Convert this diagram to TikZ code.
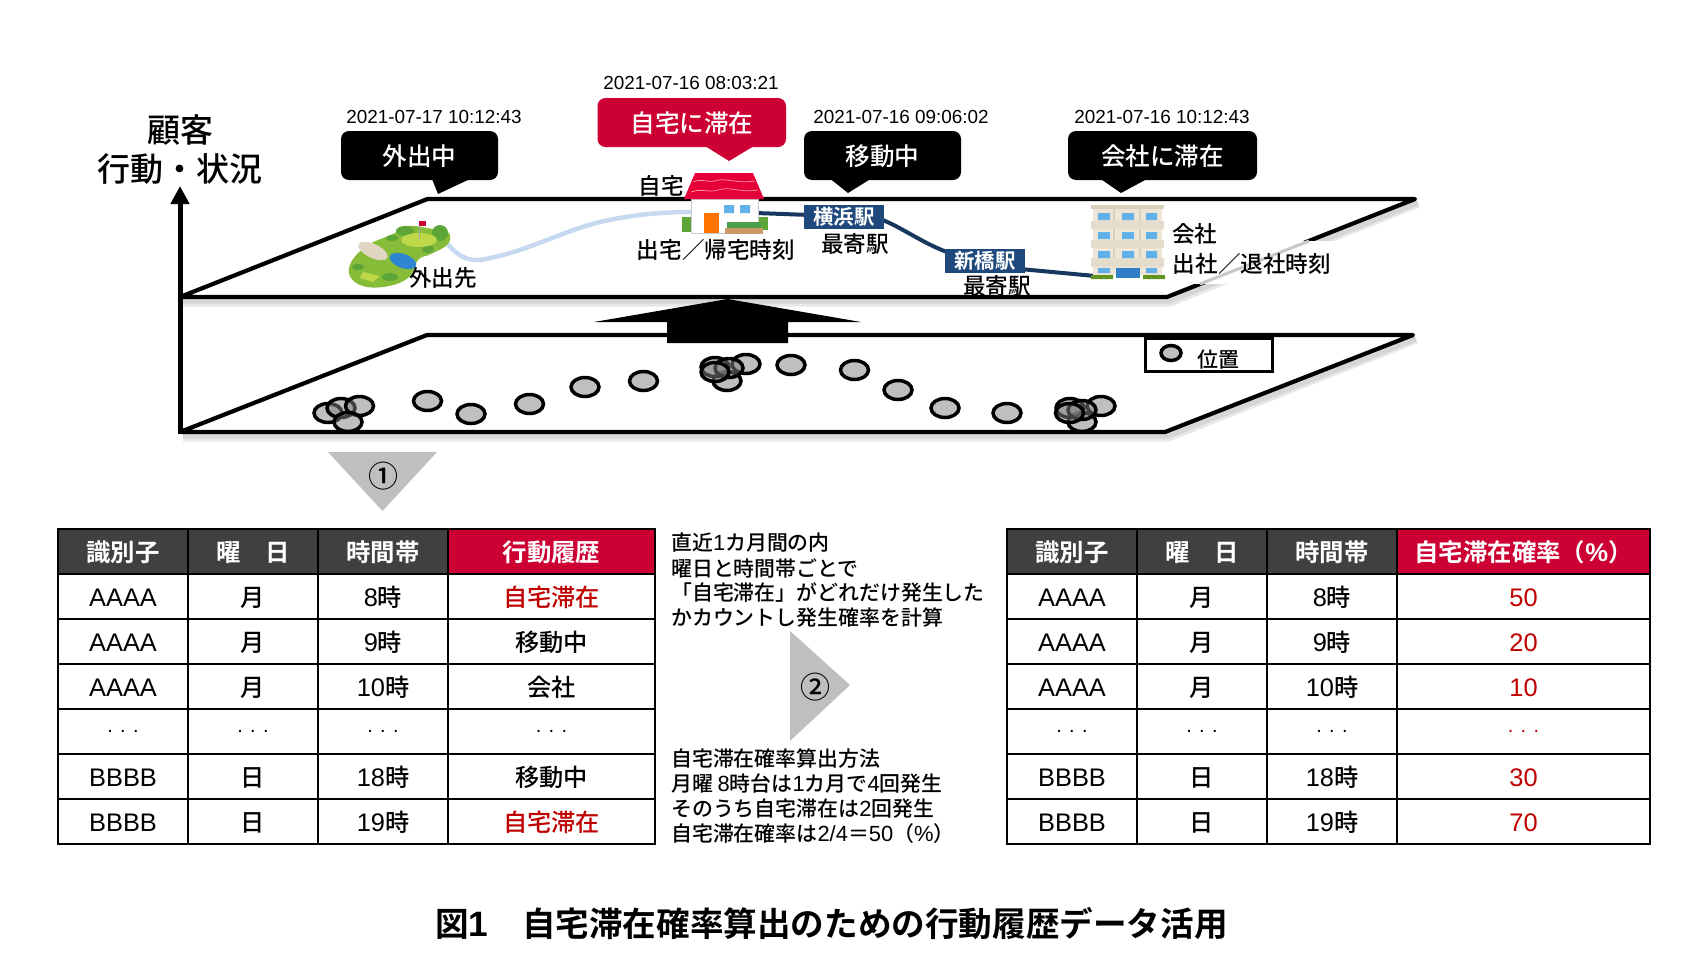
\documentclass[tikz,border=0pt]{standalone}
\usepackage{fontspec}
\usepackage{xcolor}
\setmainfont[BoldFont={Noto Sans CJK JP Bold}]{Noto Sans CJK JP Medium}
\newfontfamily\latn[Scale=1.05]{Liberation Sans}
\newfontfamily\stampfont{Liberation Sans}
\newcommand{\lat}[1]{{\latn #1}}
\usetikzlibrary{arrows.meta, shapes.geometric, positioning}
\definecolor{brandred}{HTML}{CC0033}
\definecolor{cellred}{HTML}{C00000}
\definecolor{headgray}{HTML}{404040}
\definecolor{spotgray}{HTML}{BFBFBF}
\definecolor{stationblue}{HTML}{1F497D}
\definecolor{routeblue}{HTML}{17375E}
\definecolor{lightroute}{HTML}{C6D9F1}
\definecolor{beige}{HTML}{EDE6D6}
\definecolor{beigedark}{HTML}{D8D0BC}
\definecolor{winblue}{HTML}{62B0E8}
\definecolor{doorblue}{HTML}{2F7FC8}
\definecolor{pondblue}{HTML}{2E86D0}
\definecolor{sand}{HTML}{E0D5C0}
\definecolor{turf}{HTML}{86BC38}
\definecolor{bush}{HTML}{5CA536}
\definecolor{fairway}{HTML}{BFD84A}
\definecolor{roofred}{HTML}{E6003A}

\begin{document}
\begin{tikzpicture}[
x=1pt, y=-1pt,
planeline/.style={draw=black, line width=4.2pt, line join=round},
planeshadow/.style={draw=black!9, line width=9pt, line join=round},
planeshadowin/.style={draw=black!16, line width=5pt, line join=round},
spot/.style={ellipse, draw=black, fill=gray, fill opacity=0.5, line width=3.5pt, minimum width=28pt, minimum height=19pt, inner sep=0pt},
tag/.style={inner sep=0pt, text=black, font=\fontsize{22.6}{26}\selectfont},
stamp/.style={inner sep=0pt, font=\stampfont\fontsize{18.9}{22}\selectfont},
callout/.style={inner sep=0pt, text=white, font=\fontsize{24.6}{28}\selectfont},
balloon/.style={rounded corners=8pt, fill=black},
station/.style={rectangle, fill=stationblue, text=white, inner sep=0pt, font=\bfseries\fontsize{20.4}{24}\selectfont},
cell/.style={rectangle, draw=black, fill=white, line width=1.6pt, inner sep=0pt, text height=23pt, text depth=3pt, font=\fontsize{24.2}{28}\selectfont},
head/.style={cell, fill=headgray, text=white, font=\bfseries\fontsize{24.4}{28}\selectfont},
redhead/.style={cell, fill=brandred, text=white, font=\bfseries\fontsize{24.4}{28}\selectfont},
redcell/.style={cell, text=cellred},
dotcell/.style={text height=2pt, text depth=0pt, font=\fontsize{19}{22}\selectfont},
note/.style={inner sep=0pt, anchor=west, font=\fontsize{20.9}{24}\selectfont},
wedge/.style={fill=spotgray},
colA/.style={minimum width=130pt, minimum height=45pt},
colB/.style={minimum width=130pt, minimum height=45pt},
colC/.style={minimum width=130pt, minimum height=45pt},
colD/.style={minimum width=207pt, minimum height=45pt},
colE/.style={minimum width=253pt, minimum height=45pt}
]
	\useasboundingbox (0,0) rectangle (1700,964);

	% lower plane and upper plane
	\draw[planeshadow] (183,437) -- (1168,437) -- (1416,339);
	\draw[planeshadowin] (183,436) -- (1168,436) -- (1416,339);
	\draw[planeshadow] (183,302) -- (1170,302) -- (1418,203);
	\draw[planeshadowin] (183,301) -- (1170,301) -- (1418,203);
	\node[tag] (near2) at (997,286) {最寄駅};
	\draw[planeline] (427,335) -- (1413,335) -- (1165,432) -- (180,432) -- cycle;
	\draw[planeline] (427.5,199) -- (1415,199) -- (1167,297) -- (180,297) -- cycle;

	% axis
	\coordinate (axis0) at (180,434);
	\coordinate (axis1) at (180,186);
	\draw[-{Triangle[length=18pt,width=18pt]}, line width=5pt] (axis0) -- (axis1);
	\node[inner sep=0pt, font=\fontsize{33}{40}\selectfont] (who) at (180,130) {顧客};
	\node[inner sep=0pt, font=\fontsize{33}{40}\selectfont] (what) at (180,169) {行動・状況};

	% big arrow between the planes
	\fill[black] (727.5,299) -- (861,322) -- (788,322) -- (788,343) -- (667,343) -- (667,322) -- (594,322) -- cycle;

	% callouts
	\fill[balloon] (341,131) rectangle (498,180);
	\fill (432,179) -- (470,179) -- (438,194) -- cycle;
	\fill[balloon, fill=brandred] (597.5,98) rectangle (786,147);
	\fill[brandred] (705,146) -- (754,146) -- (729,161) -- cycle;
	\fill[balloon] (804,131) rectangle (961,180);
	\fill (830.5,179) -- (870.5,179) -- (848,193) -- cycle;
	\fill[balloon] (1068,131) rectangle (1257,180);
	\fill (1100.7,179) -- (1147,179) -- (1121,193) -- cycle;
	\node[callout] (out) at (419.5,156) {外出中};
	\node[callout] (home) at (692,123) {自宅に滞在};
	\node[callout] (move) at (882.5,156) {移動中};
	\node[callout] (work) at (1162.5,156) {会社に滞在};
	\node[stamp] (t1) at (434,117) {2021-07-17 10:12:43};
	\node[stamp] (t2) at (691,83) {2021-07-16 08:03:21};
	\node[stamp] (t3) at (901,117) {2021-07-16 09:06:02};
	\node[stamp] (t4) at (1162,117) {2021-07-16 10:12:43};

	% routes
	\draw[lightroute, line width=4.5pt] (446,242) .. controls (462,262) and (475,262) .. (490,258) .. controls (530,250) and (560,232) .. (600,222) .. controls (635,214) and (665,212) .. (692,212);
	\draw[routeblue, line width=4pt] (756,213) -- (810,215);
	\draw[routeblue, line width=4pt] (880,219) .. controls (900,226) and (925,245) .. (950,253);
	\draw[routeblue, line width=4pt] (1020,269) -- (1095,276);

	% golf course
	\fill[turf] plot[smooth cycle, tension=0.7] coordinates {(349,268) (365,247) (393,234) (407,226) (433,229) (448,232) (448,244) (431,254) (418,260) (408,278) (383,287) (358,284)};
	\fill[bush] (405,231) ellipse (9pt and 5pt) (440,233) circle (8pt) (392,238) ellipse (6pt and 3pt) (428,249) ellipse (6pt and 4pt) (358,267) ellipse (6pt and 3pt) (390,277) ellipse (8pt and 4pt);
	\fill[fairway] (419,240) ellipse (18pt and 7pt);
	\fill[sand, rotate around={-25:(373,251)}] (373,251) ellipse (16pt and 7pt);
	\fill[pondblue, rotate around={-20:(403,261)}] (403,261) ellipse (14pt and 7pt);
	\fill[fairway] (363,272) -- (380,276) -- (373,282) -- (360,278) -- cycle;
	\draw[black!35, line width=0.8pt] (419,239) -- (419,225);
	\fill[brandred] (419,221) rectangle (426,226);

	% house
	\fill[bush] (682,217) rectangle (691,232);
	\fill[bush] (758,217) rectangle (768,230);
	\filldraw[draw=black!20, fill=white, line width=0.6pt] (691,199) rectangle (758,233);
	\fill[orange!90!red] (704,213) rectangle (719,233);
	\fill[winblue] (724,205) rectangle (734,213) (740,205) rectangle (750,213);
	\fill[black!55!green!70!white] (727,222) rectangle (761,228);
	\fill[brown!80!white] (725,228) rectangle (763,234);
	\fill[roofred] (695,173) -- (753,173) -- (764,199) -- (684,199) -- cycle;
	\draw[red!40!white, line width=0.7pt] (693,182) .. controls (703,178) and (708,183) .. (715,181) .. controls (725,177) and (735,184) .. (755,181);
	\draw[red!40!white, line width=0.7pt] (691,192) .. controls (703,188) and (708,193) .. (718,190) .. controls (730,186) and (740,193) .. (758,190);
	\node[tag] (homelabel) at (661,186) {自宅};
	\node[tag] (hometime) at (716,250) {出宅／帰宅時刻};

	% stations
	\node[station, minimum width=80pt, minimum height=24pt] (yoko) at (844,217) {横浜駅};
	\node[station, minimum width=80pt, minimum height=24pt] (shin) at (985,261) {新橋駅};
	\node[tag] (near1) at (855,244) {最寄駅};
	\node[tag] (golf) at (443,278) {外出先};

	% building
	\fill[beige] (1093,206) rectangle (1162,275);
	\fill[beigedark] (1091,205) rectangle (1164,209);
	\draw[beigedark, line width=2pt] (1114,209) -- (1114,268) (1140,209) -- (1140,268);
	\fill[beigedark!40!beige] (1091,221) rectangle (1164,229) (1091,240) rectangle (1164,248) (1091,258) rectangle (1164,267);
	\fill[winblue] (1098,213) rectangle (1110,220) (1122,213) rectangle (1134,220) (1146,213) rectangle (1157,220);
	\fill[winblue] (1098,232) rectangle (1110,239) (1122,232) rectangle (1134,239) (1146,232) rectangle (1157,239);
	\fill[winblue] (1098,251) rectangle (1110,258) (1122,251) rectangle (1134,258) (1146,251) rectangle (1157,258);
	\fill[winblue] (1098,268) rectangle (1110,273) (1146,268) rectangle (1157,273);
	\fill[doorblue] (1116,268) rectangle (1140,278);
	\fill[black!35!green!50!brown] (1091,275) rectangle (1113,279) (1143,275) rectangle (1165,279);

	% text over the right edge of the upper plane
	\fill[white] (1173,241) rectangle (1335,284);
	\draw[black!22, line width=3pt] (1309,241) -- (1200,284);
	\node[tag] (worklabel) at (1194.6,234) {会社};
	\node[tag] (worktime) at (1252,264) {出社／退社時刻};

	% legend
	\draw[black, line width=3pt] (1145,338) rectangle (1272,371);
	\node[spot, minimum width=20pt, minimum height=15pt] (key) at (1171,353) {};
	\node[tag, font=\fontsize{21}{25}\selectfont] (keylabel) at (1218,360) {位置};

	% positions
	\node[spot] (p1) at (328,413) {};
	\node[spot] (p2) at (341,408) {};
	\node[spot] (p3) at (359.5,406) {};
	\node[spot] (p4) at (348,422) {};
	\node[spot] (p5) at (427.5,401) {};
	\node[spot] (p6) at (471,414) {};
	\node[spot] (p7) at (529.5,404) {};
	\node[spot] (p8) at (585,387) {};
	\node[spot] (p9) at (643.5,381) {};
	\node[spot] (p10) at (727,381) {};
	\node[spot] (p11) at (746,364) {};
	\node[spot] (p12) at (715,367) {};
	\node[spot] (p13) at (729,368) {};
	\node[spot] (p14) at (715,372) {};
	\node[spot] (p15) at (791,365) {};
	\node[spot] (p16) at (854.5,370) {};
	\node[spot] (p17) at (898,390) {};
	\node[spot] (p18) at (945,408) {};
	\node[spot] (p19) at (1007,413) {};
	\node[spot] (p20) at (1082,422) {};
	\node[spot] (p21) at (1101,406) {};
	\node[spot] (p22) at (1070,408) {};
	\node[spot] (p23) at (1082,410) {};
	\node[spot] (p24) at (1069.5,413) {};

	% step marks
	\fill[wedge] (328,452) -- (437,452) -- (382.5,511) -- cycle;
	\node[inner sep=0pt, font=\fontsize{30}{34}\selectfont] (one) at (383,476) {①};
	\fill[wedge] (790,631) -- (850,685) -- (790,741) -- cycle;
	\node[inner sep=0pt, font=\fontsize{30}{34}\selectfont] (two) at (815,687) {②};

	% left table
	\node[head, colA] (a1) at (123,551.5) {識別子};
	\node[head, colB] (a2) at (253,551.5) {曜　日};
	\node[head, colC] (a3) at (383,551.5) {時間帯};
	\node[redhead, colD] (a4) at (551.5,551.5) {行動履歴};
	\node[cell, colA] (b1) at (123,596.5) {\lat{AAAA}};
	\node[cell, colB] (b2) at (253,596.5) {月};
	\node[cell, colC] (b3) at (383,596.5) {\lat{8}時};
	\node[redcell, colD] (b4) at (551.5,596.5) {自宅滞在};
	\node[cell, colA] (c1) at (123,641.5) {\lat{AAAA}};
	\node[cell, colB] (c2) at (253,641.5) {月};
	\node[cell, colC] (c3) at (383,641.5) {\lat{9}時};
	\node[cell, colD] (c4) at (551.5,641.5) {移動中};
	\node[cell, colA] (d1) at (123,686.5) {\lat{AAAA}};
	\node[cell, colB] (d2) at (253,686.5) {月};
	\node[cell, colC] (d3) at (383,686.5) {\lat{10}時};
	\node[cell, colD] (d4) at (551.5,686.5) {会社};
	\node[cell, dotcell, colA] (e1) at (123,731.5) {\lat{. . .}};
	\node[cell, dotcell, colB] (e2) at (253,731.5) {\lat{. . .}};
	\node[cell, dotcell, colC] (e3) at (383,731.5) {\lat{. . .}};
	\node[cell, dotcell, colD] (e4) at (551.5,731.5) {\lat{. . .}};
	\node[cell, colA] (f1) at (123,776.5) {\lat{BBBB}};
	\node[cell, colB] (f2) at (253,776.5) {日};
	\node[cell, colC] (f3) at (383,776.5) {\lat{18}時};
	\node[cell, colD] (f4) at (551.5,776.5) {移動中};
	\node[cell, colA] (g1) at (123,821.5) {\lat{BBBB}};
	\node[cell, colB] (g2) at (253,821.5) {日};
	\node[cell, colC] (g3) at (383,821.5) {\lat{19}時};
	\node[redcell, colD] (g4) at (551.5,821.5) {自宅滞在};

	% right table
	\node[head, colA] (h1) at (1072,551.5) {識別子};
	\node[head, colB] (h2) at (1202,551.5) {曜　日};
	\node[head, colC] (h3) at (1332,551.5) {時間帯};
	\node[redhead, colE] (h4) at (1523.5,551.5) {自宅滞在確率（\lat{\%}）};
	\node[cell, colA] (i1) at (1072,596.5) {\lat{AAAA}};
	\node[cell, colB] (i2) at (1202,596.5) {月};
	\node[cell, colC] (i3) at (1332,596.5) {\lat{8}時};
	\node[redcell, colE] (i4) at (1523.5,596.5) {\lat{50}};
	\node[cell, colA] (j1) at (1072,641.5) {\lat{AAAA}};
	\node[cell, colB] (j2) at (1202,641.5) {月};
	\node[cell, colC] (j3) at (1332,641.5) {\lat{9}時};
	\node[redcell, colE] (j4) at (1523.5,641.5) {\lat{20}};
	\node[cell, colA] (k1) at (1072,686.5) {\lat{AAAA}};
	\node[cell, colB] (k2) at (1202,686.5) {月};
	\node[cell, colC] (k3) at (1332,686.5) {\lat{10}時};
	\node[redcell, colE] (k4) at (1523.5,686.5) {\lat{10}};
	\node[cell, dotcell, colA] (l1) at (1072,731.5) {\lat{. . .}};
	\node[cell, dotcell, colB] (l2) at (1202,731.5) {\lat{. . .}};
	\node[cell, dotcell, colC] (l3) at (1332,731.5) {\lat{. . .}};
	\node[redcell, dotcell, colE] (l4) at (1523.5,731.5) {\lat{. . .}};
	\node[cell, colA] (m1) at (1072,776.5) {\lat{BBBB}};
	\node[cell, colB] (m2) at (1202,776.5) {日};
	\node[cell, colC] (m3) at (1332,776.5) {\lat{18}時};
	\node[redcell, colE] (m4) at (1523.5,776.5) {\lat{30}};
	\node[cell, colA] (n1) at (1072,821.5) {\lat{BBBB}};
	\node[cell, colB] (n2) at (1202,821.5) {日};
	\node[cell, colC] (n3) at (1332,821.5) {\lat{19}時};
	\node[redcell, colE] (n4) at (1523.5,821.5) {\lat{70}};

	% notes between the tables
	\node[note] (note1) at (671,543) {直近\lat{1}カ月間の内};
	\node[note] (note2) at (671,568) {曜日と時間帯ごとで};
	\node[note] (note3) at (671,593) {「自宅滞在」がどれだけ発生した};
	\node[note] (note4) at (671,618) {かカウントし発生確率を計算};
	\node[note] (calc1) at (671,759) {自宅滞在確率算出方法};
	\node[note] (calc2) at (671,784) {月曜 \lat{8}時台は\lat{1}カ月で\lat{4}回発生};
	\node[note] (calc3) at (671,809) {そのうち自宅滞在は\lat{2}回発生};
	\node[note] (calc4) at (671,834) {自宅滞在確率は\lat{2/4}＝\lat{50}（\lat{\%}）};

	% caption
	\node[inner sep=0pt, font=\bfseries\fontsize{33.6}{40}\selectfont] (caption) at (831.5,924) {図\lat{1}　自宅滞在確率算出のための行動履歴データ活用};
\end{tikzpicture}
\end{document}
